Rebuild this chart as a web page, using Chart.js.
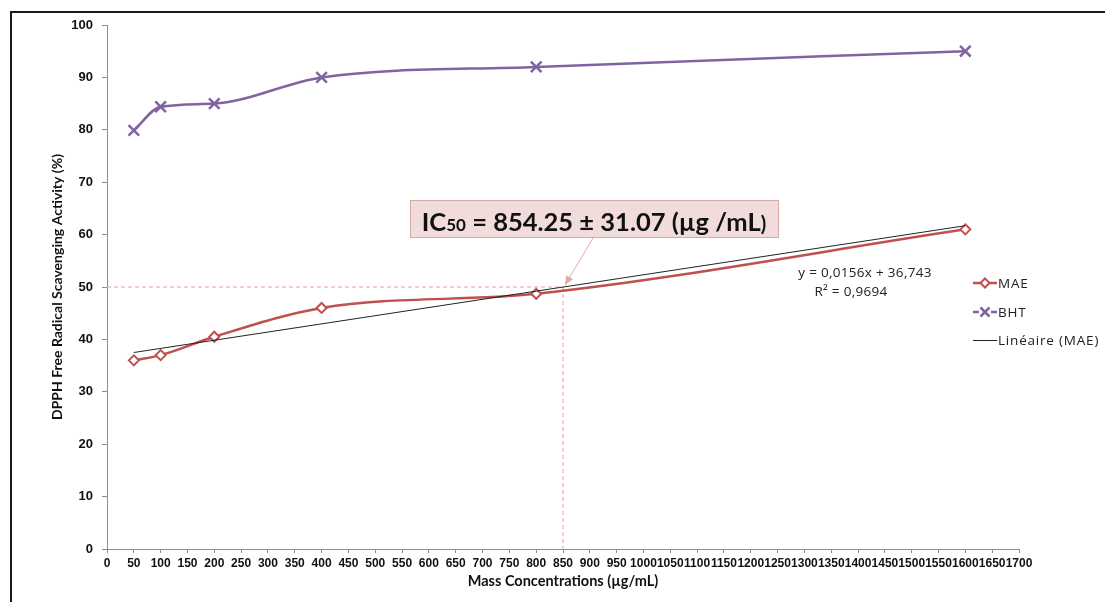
<!DOCTYPE html>
<html>
<head>
<meta charset="utf-8">
<script src="https://cdn.jsdelivr.net/npm/chart.js@4.4.1/dist/chart.umd.min.js"></script>
<style>
  html, body { margin: 0; padding: 0; background: #fff; }
  #wrap { position: relative; width: 1105px; height: 602px; overflow: hidden; }
  #frame { position: absolute; left: 10px; top: 11px; width: 1200px; height: 700px; border: 2px solid #1a1a1a; box-sizing: border-box; pointer-events: none; }
  canvas { position: absolute; left: 0; top: 0; }
</style>
</head>
<body>
<div id="wrap">
  <div id="frame"></div>
  <canvas id="c" width="1105" height="602"></canvas>
</div>
<script>
// ---- data ----
const concentrations = [50, 100, 200, 400, 800, 1600];
const maeValues = [36.0, 37.0, 40.5, 46.0, 48.7, 61.0];
const bhtValues = [79.9, 84.4, 85.0, 90.0, 92.0, 95.0];
const trendX = [50, 1600];
const trendY = [37.5, 61.7];
const ic50X = 850;
const ic50Y = 50;
const equationLines = ['y = 0,0156x + 36,743', 'R² = 0,9694'];
const legendLabels = ['MAE', 'BHT', 'Linéaire (MAE)'];
const yAxisTitle = 'DPPH Free Radical Scavenging Activity (%)';
const xAxisTitle = 'Mass Concentrations (µg/mL)';

const RED = '#c0504d', PURPLE = '#8064a2', PINK = '#e39f9f';

const toPts = (xs, ys) => xs.map((x, i) => ({ x: x, y: ys[i] }));

const overlay = {
  id: 'overlay',
  beforeDatasetsDraw(chart) {
    const ctx = chart.ctx, xs = chart.scales.x, ys = chart.scales.y;
    const px = xs.getPixelForValue(ic50X), py = ys.getPixelForValue(ic50Y);
    ctx.save();
    ctx.strokeStyle = PINK; ctx.lineWidth = 1; ctx.setLineDash([4, 3]);
    ctx.beginPath();
    ctx.moveTo(xs.left, py); ctx.lineTo(px, py);
    ctx.moveTo(px, py); ctx.lineTo(px, ys.bottom);
    ctx.stroke();
    ctx.restore();
  },
  afterDraw(chart) {
    const ctx = chart.ctx, xs = chart.scales.x, ys = chart.scales.y;
    const px = xs.getPixelForValue(ic50X), py = ys.getPixelForValue(ic50Y);
    ctx.save();
    // IC50 box
    const bx = 410, by = 200, bw = 368, bh = 37;
    ctx.fillStyle = '#f2dcdb';
    ctx.fillRect(bx, by, bw, bh);
    ctx.strokeStyle = '#d4a9a8'; ctx.lineWidth = 1;
    ctx.strokeRect(bx + 0.5, by + 0.5, bw, bh);
    const parts = [
      ['IC', 'bold 25.5px Lato'],
      ['50', 'bold 17px Lato'],
      [' = 854.25 ± 31.07 (µg /mL', 'bold 25.5px Lato'],
      [')', 'bold 20px Lato']
    ];
    let total = 0;
    parts.forEach(p => { ctx.font = p[1]; total += ctx.measureText(p[0]).width; });
    let tx = bx + bw / 2 - total / 2;
    ctx.fillStyle = '#111'; ctx.textBaseline = 'alphabetic'; ctx.textAlign = 'left';
    parts.forEach(p => { ctx.font = p[1]; ctx.fillText(p[0], tx, 231); tx += ctx.measureText(p[0]).width; });
    // arrow
    const ax0 = 593, ay0 = by + bh + 1, ax1 = px + 2, ay1 = py - 2;
    ctx.strokeStyle = '#e2a9a9'; ctx.fillStyle = '#e2a9a9'; ctx.lineWidth = 1;
    ctx.beginPath(); ctx.moveTo(ax0, ay0); ctx.lineTo(ax1, ay1); ctx.stroke();
    const ang = Math.atan2(ay1 - ay0, ax1 - ax0), L = 9, W = 4;
    ctx.beginPath();
    ctx.moveTo(ax1, ay1);
    ctx.lineTo(ax1 - L * Math.cos(ang) + W * Math.sin(ang), ay1 - L * Math.sin(ang) - W * Math.cos(ang));
    ctx.lineTo(ax1 - L * Math.cos(ang) - W * Math.sin(ang), ay1 - L * Math.sin(ang) + W * Math.cos(ang));
    ctx.closePath(); ctx.fill();
    // equation
    ctx.fillStyle = '#222'; ctx.font = '13.5px "Open Sans"'; ctx.textAlign = 'center';
    try { ctx.letterSpacing = '0.3px'; } catch (e) {}
    ctx.fillText(equationLines[0], 865, 277);
    ctx.fillText(equationLines[1], 851, 296);
    // legend
    ctx.textAlign = 'left'; ctx.font = '13.5px "Open Sans"'; ctx.textBaseline = 'middle';
    try { ctx.letterSpacing = '0.8px'; } catch (e) {}
    const lx0 = 973, lx1 = 997, rows = [283, 312, 340];
    ctx.strokeStyle = RED; ctx.lineWidth = 2.5;
    ctx.beginPath(); ctx.moveTo(lx0, rows[0]); ctx.lineTo(lx1, rows[0]); ctx.stroke();
    ctx.fillStyle = '#fff'; ctx.lineWidth = 2;
    const cx = (lx0 + lx1) / 2, r = 4.5;
    ctx.beginPath(); ctx.moveTo(cx, rows[0] - r); ctx.lineTo(cx + r, rows[0]); ctx.lineTo(cx, rows[0] + r); ctx.lineTo(cx - r, rows[0]); ctx.closePath(); ctx.fill(); ctx.stroke();
    ctx.strokeStyle = PURPLE; ctx.lineWidth = 2.5;
    ctx.beginPath(); ctx.moveTo(lx0, rows[1]); ctx.lineTo(cx - 6, rows[1]); ctx.moveTo(cx + 6, rows[1]); ctx.lineTo(lx1, rows[1]); ctx.stroke();
    const c = 4.5;
    ctx.beginPath(); ctx.moveTo(cx - c, rows[1] - c); ctx.lineTo(cx + c, rows[1] + c); ctx.moveTo(cx + c, rows[1] - c); ctx.lineTo(cx - c, rows[1] + c); ctx.stroke();
    ctx.strokeStyle = '#222'; ctx.lineWidth = 1;
    ctx.beginPath(); ctx.moveTo(lx0, rows[2] + 0.5); ctx.lineTo(lx1, rows[2] + 0.5); ctx.stroke();
    ctx.fillStyle = '#222';
    legendLabels.forEach((t, i) => ctx.fillText(t, lx1 + 1, rows[i] + 1));
    ctx.restore();
  }
};

new Chart(document.getElementById('c'), {
  type: 'scatter',
  data: {
    datasets: [
      { label: 'Linéaire (MAE)', data: toPts(trendX, trendY), showLine: true, borderColor: '#222', borderWidth: 1, pointRadius: 0, tension: 0, order: 0 },
      { label: 'MAE', data: toPts(concentrations, maeValues), showLine: true, borderColor: RED, borderWidth: 2.5,
        pointStyle: 'rectRot', pointRadius: 5, pointBackgroundColor: '#fff', pointBorderColor: RED, pointBorderWidth: 2,
        cubicInterpolationMode: 'monotone', order: 1 },
      { label: 'BHT', data: toPts(concentrations, bhtValues), showLine: true, borderColor: PURPLE, borderWidth: 2.5,
        pointStyle: 'crossRot', pointRadius: 7.5, pointBorderColor: PURPLE, pointBorderWidth: 2.5,
        cubicInterpolationMode: 'monotone', order: 2 }
    ]
  },
  options: {
    responsive: false,
    animation: false,
    devicePixelRatio: 1,
    layout: { padding: { left: 45, right: 86, top: 25, bottom: 8 } },
    plugins: { legend: { display: false }, tooltip: { enabled: false } },
    scales: {
      x: {
        type: 'linear', min: 0, max: 1700,
        afterFit: s => { s.height = 45; },
        border: { color: '#8c8c8c', width: 1 },
        grid: { drawOnChartArea: false, color: '#8c8c8c', tickLength: 4 },
        ticks: { stepSize: 50, autoSkip: false, maxRotation: 0, minRotation: 0, padding: 3, color: '#111',
                 callback: v => String(v),
                 font: { family: 'Liberation Sans', weight: 'bold', size: 12 } },
        title: { display: true, text: xAxisTitle, color: '#111', padding: { top: 0, bottom: 4 },
                 font: { family: 'Lato', weight: 'bold', size: 14.5 } }
      },
      y: {
        min: 0, max: 100,
        afterFit: s => { s.width = 62; },
        border: { color: '#8c8c8c', width: 1 },
        grid: { drawOnChartArea: false, color: '#8c8c8c', tickLength: 5 },
        ticks: { stepSize: 10, padding: 9, color: '#111',
                 callback: v => String(v),
                 font: { family: 'Liberation Sans', weight: 'bold', size: 13 } },
        title: { display: true, text: yAxisTitle, color: '#111', padding: { top: 4, bottom: 4 },
                 font: { family: 'Lato', weight: 'bold', size: 14 } }
      }
    }
  },
  plugins: [overlay]
});
</script>
</body>
</html>
